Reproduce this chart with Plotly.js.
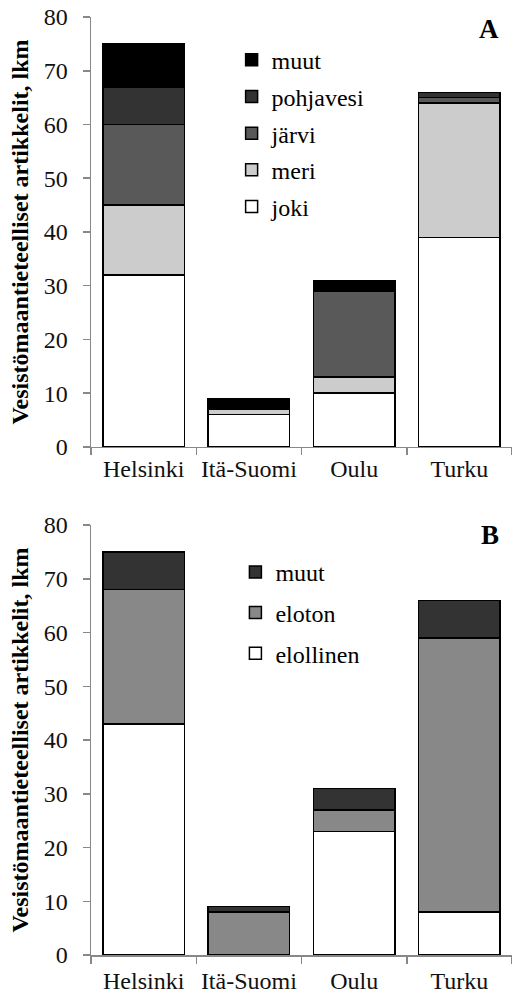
<!DOCTYPE html>
<html>
<head>
<meta charset="utf-8">
<script src="https://cdn.plot.ly/plotly-3.0.1.min.js"></script>
<style>html,body{margin:0;padding:0;background:#fff;}#chart{width:512px;height:999px;}</style>
</head>
<body>
<div id="chart"></div>
<script>
const categories = ["Helsinki", "Itä-Suomi", "Oulu", "Turku"];

// Panel A
const jokiA = [32, 6, 10, 39];
const meriA = [13, 1, 3, 25];
const jarviA = [15, 0, 16, 1];
const pohjavesiA = [7, 0, 0, 1];
const muutA = [8, 2, 2, 0];

// Panel B
const elollinenB = [43, 0, 23, 8];
const elotonB = [25, 8, 4, 51];
const muutB = [7, 1, 4, 7];

const seriesA = [
  {name: "joki", y: jokiA, color: "#ffffff"},
  {name: "meri", y: meriA, color: "#cccccc"},
  {name: "järvi", y: jarviA, color: "#595959"},
  {name: "pohjavesi", y: pohjavesiA, color: "#333333"},
  {name: "muut", y: muutA, color: "#000000"}
];
const seriesB = [
  {name: "elollinen", y: elollinenB, color: "#ffffff"},
  {name: "eloton", y: elotonB, color: "#888888"},
  {name: "muut", y: muutB, color: "#333333"}
];

const font = "Liberation Serif";
const traces = [];
seriesA.forEach((s, i) => traces.push({
  type: "bar", x: categories, y: s.y, name: s.name,
  xaxis: "x", yaxis: "y", legend: "legend", legendgroup: "a" + i, legendrank: 100 - i,
  marker: {color: s.color, line: {color: "#000", width: 1.5}}
}));
seriesB.forEach((s, i) => traces.push({
  type: "bar", x: categories, y: s.y, name: s.name,
  xaxis: "x2", yaxis: "y2", legend: "legend2", legendgroup: "b" + i, legendrank: 100 - i,
  marker: {color: s.color, line: {color: "#000", width: 1.5}}
}));

const yTitle = "Vesistömaantieteelliset artikkelit, lkm";
const xCommon = {
  type: "category", range: [-0.5, 3.5], tickson: "boundaries", tickangle: 0,
  ticks: "outside", ticklen: 7, tickwidth: 1.5, tickcolor: "#888",
  showline: true, linecolor: "#888", linewidth: 1.5, showgrid: false,
  tickfont: {family: font, size: 24, color: "#111"}, fixedrange: true
};
const yCommon = {
  range: [0, 80], dtick: 10, ticks: "outside", ticklen: 7, tickwidth: 1.5, tickcolor: "#888",
  showline: true, linecolor: "#888", linewidth: 1.5, showgrid: false, zeroline: false,
  tickfont: {family: font, size: 24, color: "#111"}, ticklabelstandoff: 10,
  title: {text: yTitle, font: {family: font, size: 24, color: "#000", weight: "bold"}, standoff: 8}
};

const legendCommon = {
  font: {family: font, size: 24, color: "#000"}, traceorder: "grouped",
  bgcolor: "rgba(0,0,0,0)", xanchor: "left", yanchor: "top", itemwidth: 30
};

const layout = {
  width: 512, height: 999,
  margin: {l: 91, r: 0, t: 17, b: 44},
  paper_bgcolor: "#fff", plot_bgcolor: "#fff",
  barmode: "stack", bargap: 0.227,
  showlegend: true,
  xaxis: Object.assign({}, xCommon, {anchor: "y", domain: [0, 1]}),
  yaxis: Object.assign({}, yCommon, {anchor: "x", domain: [0.5416, 1]}),
  xaxis2: Object.assign({}, xCommon, {anchor: "y2", domain: [0, 1], ticklabelstandoff: 4}),
  yaxis2: Object.assign({}, yCommon, {anchor: "x2", domain: [0, 0.4584]}),
  legend: Object.assign({}, legendCommon, {x: 0.334, y: 0.978, tracegroupgap: 2.5}),
  legend2: Object.assign({}, legendCommon, {x: 0.343, y: 0.432, tracegroupgap: 6.5}),
  annotations: [
    {text: "<b>A</b>", xref: "paper", yref: "paper", x: 0.945, y: 0.987, xanchor: "center", yanchor: "middle",
     showarrow: false, font: {family: font, size: 27, color: "#000"}},
    {text: "<b>B</b>", xref: "paper", yref: "paper", x: 0.948, y: 0.448, xanchor: "center", yanchor: "middle",
     showarrow: false, font: {family: font, size: 27, color: "#000"}}
  ]
};

Plotly.newPlot("chart", traces, layout, {staticPlot: true, displayModeBar: false});
</script>
</body>
</html>
